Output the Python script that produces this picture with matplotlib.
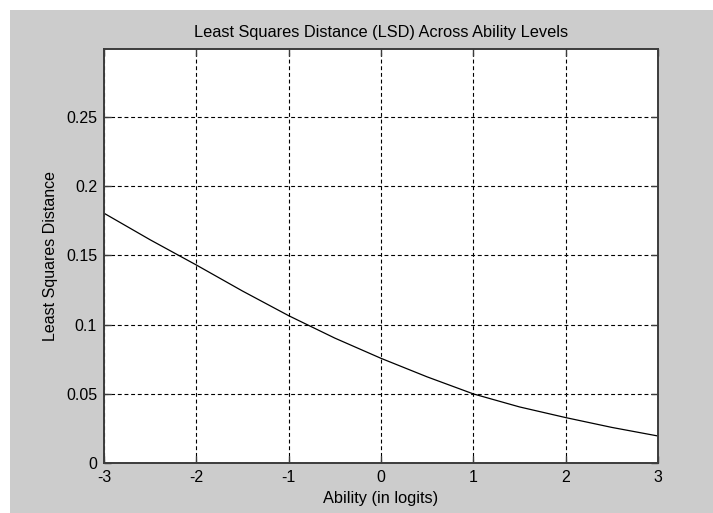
import matplotlib
matplotlib.use("Agg")
import matplotlib.pyplot as plt
from matplotlib.patches import Rectangle

# LSD curve sampled at half-logit steps
ability = [-3.0, -2.5, -2.0, -1.5, -1.0, -0.5, 0.0, 0.5, 1.0, 1.5, 2.0, 2.5, 3.0]
lsd = [0.1804, 0.1612, 0.1430, 0.1242, 0.1064, 0.0902, 0.0756, 0.0622,
       0.0499, 0.0405, 0.0328, 0.0257, 0.0195]

x_ticks = [-3, -2, -1, 0, 1, 2, 3]
y_ticks = [0, 0.05, 0.1, 0.15, 0.2, 0.25]
y_labels = ["0", "0.05", "0.1", "0.15", "0.2", "0.25"]

plt.rcParams["font.family"] = ["Liberation Sans", "DejaVu Sans"]
plt.rcParams["axes.unicode_minus"] = False

W, H = 713, 513
fig = plt.figure(figsize=(W / 100, H / 100), dpi=100, facecolor="white")

# grey figure panel, offset by a thin white border at top/left
panel = Rectangle((10 / W, 0), 1 - 10 / W, 1 - 10 / H,
                  transform=fig.transFigure, facecolor="#cccccc",
                  edgecolor="none", zorder=-10)
fig.add_artist(panel)

ax = fig.add_axes([104 / W, 1 - 463 / H, (658 - 104) / W, (463 - 49) / H])
ax.set_zorder(1)
ax.set_facecolor("white")
ax.plot(ability, lsd, color="black", linewidth=0.9)

ax.set_xlim(-3, 3)
ax.set_ylim(0, 0.299)
ax.set_xticks(x_ticks)
ax.set_yticks(y_ticks)
ax.set_yticklabels(y_labels)

ax.grid(True, color="black", linestyle=(0, (3.5, 2.5)), linewidth=0.8)
ax.set_axisbelow(True)
for side in ax.spines.values():
    side.set_color("#3c3c3c")
    side.set_linewidth(1.4)
ax.tick_params(direction="in", length=5, width=1, color="#3c3c3c",
               top=True, right=True, pad=5, labelsize=11.5)

ax.set_title("Least Squares Distance (LSD) Across Ability Levels",
             fontsize=11.8, pad=9)
ax.set_xlabel("Ability (in logits)", fontsize=11.8, labelpad=4)
ax.set_ylabel("Least Squares Distance", fontsize=11.5, labelpad=6)

fig.savefig("out.png", dpi=100)
